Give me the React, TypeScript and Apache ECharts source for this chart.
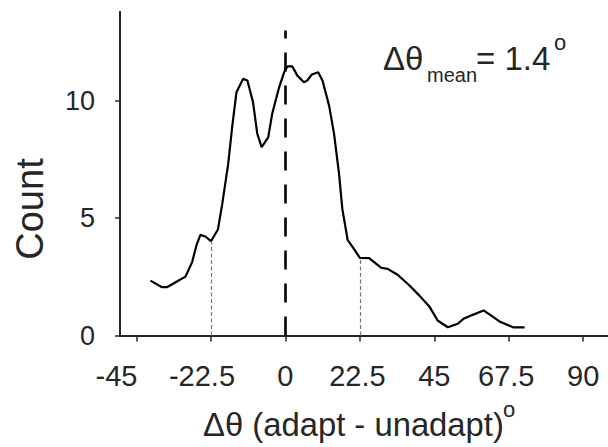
import React, { useEffect, useRef } from "react";
import * as echarts from "echarts";

// Δθ bin centres (degrees) and counts
const deltaTheta = [
  -40.8, -37.3, -35.8, -33.2, -30.2, -28.2, -26.9, -25.7, -24.2, -22.5,
  -20.4, -19.1, -17.3, -16.1, -14.8, -12.8, -11.5, -9.8, -8.5, -7.2,
  -5.2, -4.0, -1.9, -0.4, 0.6, 2.1, 3.6, 5.6, 6.6, 8.0,
  9.9, 11.2, 13.2, 14.7, 16.2, 17.2, 18.8, 20.8, 22.5, 25.3,
  26.8, 28.9, 30.9, 33.9, 37.5, 40.5, 43.5, 46.0, 49.1, 52.1,
  53.8, 56.6, 59.9, 62.2, 64.7, 68.8, 72.3,
];
const counts = [
  2.34, 2.06, 2.06, 2.27, 2.51, 3.13, 3.84, 4.29, 4.22, 4.02,
  4.52, 5.6, 7.32, 8.88, 10.37, 10.94, 10.87, 9.95, 8.6, 8.03,
  8.45, 9.45, 10.58, 11.22, 11.47, 11.47, 11.08, 10.8, 10.87, 11.13,
  11.22, 10.87, 9.8, 8.6, 6.9, 5.4, 4.08, 3.67, 3.31, 3.3,
  3.13, 2.89, 2.84, 2.59, 2.13, 1.7, 1.24, 0.64, 0.35, 0.5,
  0.71, 0.88, 1.07, 0.85, 0.6, 0.35, 0.35,
];

const xTickValues = [-45, -22.5, 0, 22.5, 45, 67.5, 90];
const yTickValues = [0, 5, 10];
const xRange = [-50, 97.5];
const yRange = [0, 13.8];

const zeroLineX = 0;
const zeroLineTop = 13;
const boundLeft = -22.5;
const boundRight = 22.5;
const meanLabel = "= 1.4";

const FONT = '"Liberation Sans", Arial, sans-serif';
const TEXT = "#262626";

function countAt(x: number): number {
  const i = deltaTheta.indexOf(x);
  return i >= 0 ? counts[i] : 0;
}

export default function App() {
  const ref = useRef<HTMLDivElement>(null);

  useEffect(() => {
    if (!ref.current) return;
    const chart = echarts.init(ref.current, undefined, { renderer: "svg" });
    const data = deltaTheta.map((x, i) => [x, counts[i]]);

    const txt = (
      text: string,
      x: number,
      y: number,
      size: number,
      extra: any = {}
    ) => ({
      type: "text",
      x,
      y,
      silent: true,
      ...extra,
      style: {
        text,
        fontSize: size,
        fontFamily: FONT,
        fill: TEXT,
        align: extra.align || "left",
        textAlign: extra.align || "left",
        verticalAlign: "middle",
        textVerticalAlign: "middle",
      },
    });

    const labelBase = { fontSize: 29, fontFamily: FONT, color: TEXT };
    // label offsets (reference places the negative labels left of their ticks)
    const rich: any = {
      s40: { ...labelBase, padding: [0, 40, 0, 0] },
      s18: { ...labelBase, padding: [0, 18, 0, 0] },
      s5: { ...labelBase, padding: [0, 5, 0, 0] },
      s0: { ...labelBase },
    };
    const styleFor = (v: number) =>
      v === -45 ? "s40" : v === -22.5 ? "s18" : v === 22.5 || v === 67.5 ? "s5" : "s0";

    chart.setOption({
      animation: false,
      backgroundColor: "#fff",
      grid: { left: 120, right: 0, top: 11.8, bottom: 111.5, containLabel: false },
      xAxis: {
        type: "value",
        min: xRange[0],
        max: xRange[1],
        axisLine: { show: true, onZero: false, lineStyle: { color: TEXT, width: 2 } },
        axisTick: {
          show: true,
          customValues: xTickValues,
          length: 6,
          inside: false,
          lineStyle: { color: TEXT, width: 1.5 },
        },
        axisLabel: {
          customValues: xTickValues,
          ...labelBase,
          margin: 26,
          formatter: (v: number) => `{${styleFor(v)}|${v}}`,
          rich,
        },
        splitLine: { show: false },
      },
      yAxis: {
        type: "value",
        min: yRange[0],
        max: yRange[1],
        axisLine: { show: true, onZero: false, lineStyle: { color: TEXT, width: 2 } },
        axisTick: {
          show: true,
          customValues: yTickValues,
          length: 5,
          inside: false,
          lineStyle: { color: TEXT, width: 1.5 },
        },
        axisLabel: {
          customValues: yTickValues,
          fontSize: 27,
          fontFamily: FONT,
          color: TEXT,
          margin: 25,
        },
        splitLine: { show: false },
      },
      series: [
        {
          type: "line",
          data,
          showSymbol: false,
          symbol: "none",
          smooth: false,
          lineStyle: { color: "#000", width: 2.2 },
          silent: true,
          markLine: {
            silent: true,
            symbol: ["none", "none"],
            label: { show: false },
            data: [
              [
                {
                  coord: [zeroLineX, 0],
                  lineStyle: { color: "#000", width: 2.6, type: [19, 14] },
                },
                { coord: [zeroLineX, zeroLineTop] },
              ],
              [
                {
                  coord: [boundLeft, 0],
                  lineStyle: { color: "#777", width: 1.2, type: [4, 2.5] },
                },
                { coord: [boundLeft, countAt(boundLeft)] },
              ],
              [
                {
                  coord: [boundRight, 0],
                  lineStyle: { color: "#777", width: 1.2, type: [4, 2.5] },
                },
                { coord: [boundRight, countAt(boundRight)] },
              ],
            ],
          },
        },
      ],
      graphic: [
        txt("Count", 30, 209, 38, { rotation: Math.PI / 2, align: "center" }),
        txt("Δθ (adapt - unadapt)", 203, 424, 32.8),
        txt("o", 503, 409, 22),
        txt("Δθ", 383, 58, 33),
        txt("mean", 427, 75, 20),
        txt(meanLabel, 476, 58, 33),
        txt("o", 554, 42, 22),
      ],
    });

    return () => chart.dispose();
  }, []);

  return (
    <div
      ref={ref}
      style={{
        position: "fixed",
        left: 0,
        top: 0,
        width: 608,
        height: 447,
        background: "#fff",
      }}
    />
  );
}
